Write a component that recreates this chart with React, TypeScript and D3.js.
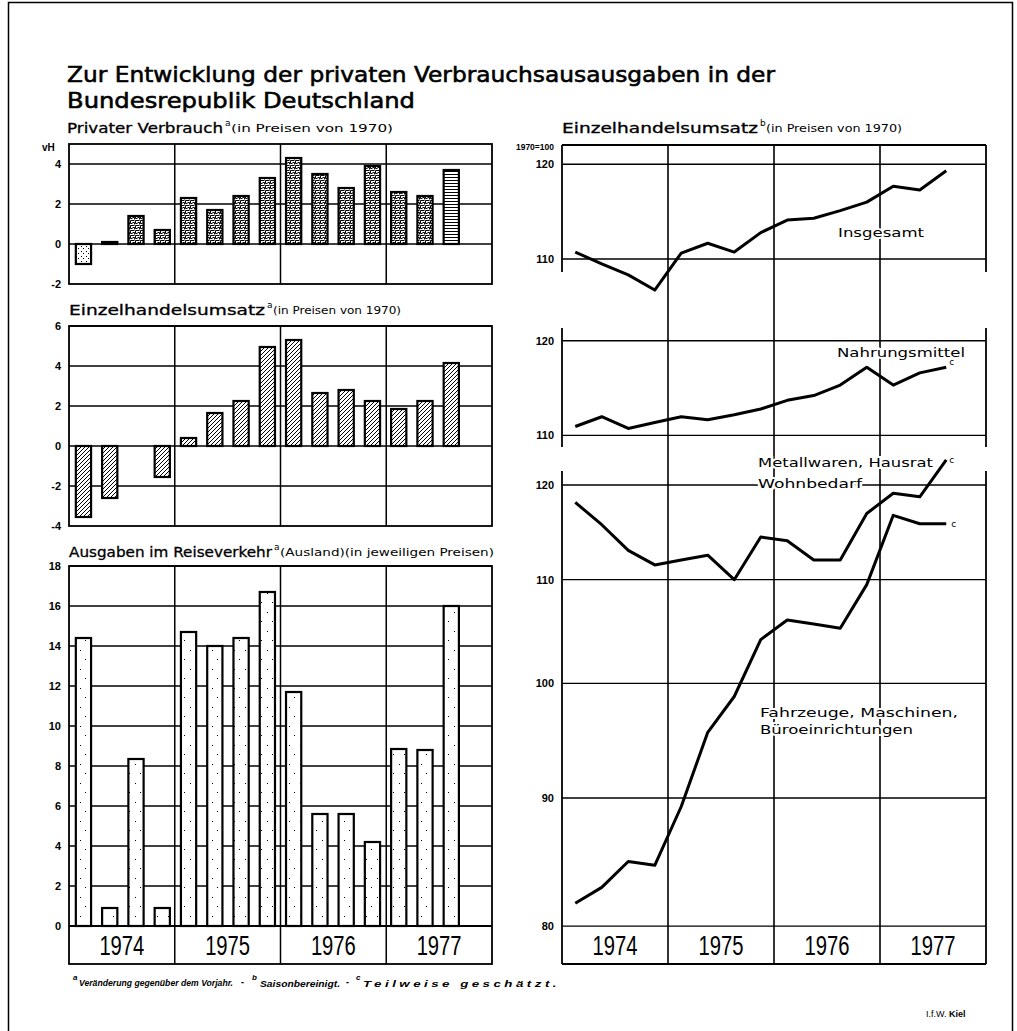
import React from 'react'
import * as d3 from 'd3'

// Quartale I/1974 bis IV/1977 (letztes Quartal 1977 noch ohne Wert)
const years = ['1974', '1975', '1976', '1977']
const quarters = years.flatMap(y => ['I', 'II', 'III', 'IV'].map(q => `${q}/${y}`))

// Veränderung gegenüber dem Vorjahr in vH
const privaterVerbrauch = [-1.0, 0.1, 1.4, 0.7, 2.3, 1.7, 2.4, 3.3, 4.3, 3.5, 2.8, 3.9, 2.6, 2.4, 3.7]
const einzelhandelVeraenderung = [-3.55, -2.6, 0, -1.55, 0.4, 1.65, 2.25, 4.95, 5.3, 2.65, 2.8, 2.25, 1.85, 2.25, 4.15]
// Ausgaben im Reiseverkehr (Ausland), Veränderung in vH
const reiseverkehr = [14.4, 0.9, 8.35, 0.9, 14.7, 14.0, 14.4, 16.7, 11.7, 5.6, 5.6, 4.2, 8.85, 8.8, 16.0]

// Einzelhandelsumsatz, 1970=100, saisonbereinigt
const insgesamt = [110.7, 109.5, 108.4, 106.9, 110.6, 111.6, 110.7, 112.7, 114.0, 114.2, 115.0, 115.9, 117.6, 117.2, 119.3]
const nahrungsmittel = [110.9, 111.9, 110.7, 111.3, 111.9, 111.6, 112.1, 112.7, 113.6, 114.1, 115.2, 117.1, 115.2, 116.5, 117.1]
const metallwaren = [118.1, 115.7, 113.0, 111.5, 112.0, 112.5, 110.0, 114.4, 114.0, 112.0, 112.0, 116.9, 119.1, 118.7, 122.8]
const fahrzeuge = [81.7, 82.9, 84.9, 84.6, 89.3, 95.6, 98.8, 104.1, 106.0, 105.6, 105.2, 109.5, 116.7, 115.8, 115.8]

const pvTicks = [-2, 0, 2, 4]
const ehTicks = [-4, -2, 0, 2, 4, 6]
const reiseTicks = [0, 2, 4, 6, 8, 10, 12, 14, 16, 18]
const indexTicksShort = [110, 120]
const indexTicksLong = [80, 90, 100, 110, 120]

const FONT = '"DejaVu Sans", "Liberation Sans", sans-serif'
const NUM_FONT = '"Liberation Sans", Arial, sans-serif'

const LX0 = 69
const LX1 = 492
const RX0 = 562
const RX1 = 986
const BOX_TOP = 926
const BOX_BOTTOM = 964

const xLeft = d3.scaleBand().domain(quarters).range([LX0, LX1]).paddingInner(0.42).paddingOuter(0.26)
const xYearLeft = d3.scaleBand().domain(years).range([LX0, LX1])
const xRight = d3.scaleBand().domain(quarters).range([RX0, RX1])
const xYearRight = d3.scaleBand().domain(years).range([RX0, RX1])

const y1 = d3.scaleLinear().domain([-2, 5]).range([284, 144])
const y2 = d3.scaleLinear().domain([-4, 6]).range([526, 326])
const y3 = d3.scaleLinear().domain([0, 18]).range([BOX_TOP, 566])

// logarithmischer Maßstab, alle Abschnitte mit gleicher Steigung
const K = 1088
function logSection(y120: number, top: number, bottom: number) {
  return d3.scaleLog()
    .domain([120 * Math.exp(-(bottom - y120) / K), 120 * Math.exp((y120 - top) / K)])
    .range([bottom, top])
}
const s1 = logSection(164.3, 145, 272)
const s2 = logSection(340.7, 328, 447)
const s3 = logSection(485, 471, BOX_TOP)
const RIGHT_TOP = 145

const Patterns = () => (
  <defs>
    <pattern id="maze" patternUnits="userSpaceOnUse" width="5" height="5">
      <rect width="5" height="5" fill="#fff" />
      <path d="M0.5 0.5h4 M0.5 0.5v3h2 M2.5 2.5h2v2" stroke="#000" strokeWidth="1" fill="none" />
    </pattern>
    <pattern id="stripes" patternUnits="userSpaceOnUse" width="6" height="3">
      <rect width="6" height="3" fill="#fff" />
      <path d="M0 0.5h6" stroke="#000" strokeWidth="1" />
    </pattern>
    <pattern id="dots" patternUnits="userSpaceOnUse" width="5" height="5">
      <rect width="5" height="5" fill="#fff" />
      <rect x="1" y="1" width="1" height="1" fill="#000" />
      <rect x="3" y="3" width="1" height="1" fill="#000" />
    </pattern>
    <pattern id="hatch" patternUnits="userSpaceOnUse" width="4" height="4">
      <rect width="4" height="4" fill="#fff" />
      <path d="M-1 1l2-2 M0 4l4-4 M3 5l2-2" stroke="#000" strokeWidth="1" />
    </pattern>
    <pattern id="sparse" patternUnits="userSpaceOnUse" width="11" height="19">
      <rect width="11" height="19" fill="#fff" />
      <rect x="3" y="4" width="1" height="1" fill="#000" />
      <rect x="8" y="13" width="1" height="1" fill="#000" />
    </pattern>
  </defs>
)

interface BarPanelProps {
  values: number[]
  y: d3.ScaleLinear<number, number>
  ticks: number[]
  fill: (v: number, i: number) => string
  yearBox?: boolean
}

const YearLabels = ({ scale }: { scale: d3.ScaleBand<string> }) => (
  <g>
    {years.map(yr => (
      <text key={yr} x={(scale(yr) as number) + scale.bandwidth() / 2} y={BOX_BOTTOM - 9}
        textAnchor="middle" fontFamily={NUM_FONT} fontSize={27} textLength={45} lengthAdjust="spacingAndGlyphs">
        {yr}
      </text>
    ))}
  </g>
)

const BarPanel: React.FC<BarPanelProps> = ({ values, y, ticks, fill, yearBox }) => {
  const [lo, hi] = y.domain()
  const top = y(hi)
  const bottom = y(lo)
  const frameBottom = yearBox ? BOX_BOTTOM : bottom
  return (
    <g>
      {ticks.filter(t => t !== lo).map(t => (
        <line key={t} x1={LX0} x2={LX1} y1={y(t)} y2={y(t)} stroke="#000" strokeWidth={1.5} />
      ))}
      {years.slice(1).map(yr => (
        <line key={yr} x1={xYearLeft(yr)} x2={xYearLeft(yr)} y1={top} y2={frameBottom} stroke="#000" strokeWidth={1.5} />
      ))}
      {values.map((v, i) => v === 0 ? null : (
        <rect key={i}
          x={xLeft(quarters[i])} width={xLeft.bandwidth()}
          y={y(Math.max(0, v))} height={Math.abs(y(v) - y(0))}
          fill={fill(v, i)} stroke="#000" strokeWidth={2.2} />
      ))}
      <rect x={LX0} y={top} width={LX1 - LX0} height={frameBottom - top} fill="none" stroke="#000" strokeWidth={1.8} />
      {yearBox && <line x1={LX0} x2={LX1} y1={bottom} y2={bottom} stroke="#000" strokeWidth={1.8} />}
      {ticks.map(t => (
        <text key={t} x={61} y={y(t) + 4} textAnchor="end" fontFamily={NUM_FONT} fontWeight="bold" fontSize={11}>
          {t < 0 ? `-${Math.abs(t)}` : t}
        </text>
      ))}
      {yearBox && <YearLabels scale={xYearLeft} />}
    </g>
  )
}

interface SectionProps {
  s: d3.ScaleLogarithmic<number, number>
  ticks: number[]
  series: number[][]
  topLine?: boolean
  yearBox?: boolean
}

const lineFor = (s: d3.ScaleLogarithmic<number, number>) =>
  d3.line<number>()
    .x((_, i) => (xRight(quarters[i]) as number) + xRight.bandwidth() / 2)
    .y(v => s(v))

const Section: React.FC<SectionProps> = ({ s, ticks, series, topLine, yearBox }) => {
  const [lo, hi] = s.domain()
  const top = s(hi)
  const bottom = s(lo)
  const frameBottom = yearBox ? BOX_BOTTOM : bottom
  return (
    <g>
      {ticks.map(t => (
        <line key={t} x1={RX0} x2={RX1} y1={s(t)} y2={s(t)} stroke="#000" strokeWidth={1.4} />
      ))}
      {topLine && <line x1={RX0} x2={RX1} y1={top} y2={top} stroke="#000" strokeWidth={1.8} />}
      <line x1={RX0} x2={RX0} y1={top} y2={frameBottom} stroke="#000" strokeWidth={1.8} />
      <line x1={RX1} x2={RX1} y1={top} y2={frameBottom} stroke="#000" strokeWidth={1.8} />
      {yearBox && <line x1={RX0} x2={RX1} y1={BOX_BOTTOM} y2={BOX_BOTTOM} stroke="#000" strokeWidth={1.8} />}
      {series.map((vals, k) => (
        <path key={k} d={lineFor(s)(vals) as string} fill="none" stroke="#000" strokeWidth={3} strokeLinejoin="round" />
      ))}
      {ticks.map(t => (
        <text key={t} x={554} y={s(t) + 4} textAnchor="end" fontFamily={NUM_FONT} fontWeight="bold" fontSize={11}>{t}</text>
      ))}
      {yearBox && <YearLabels scale={xYearRight} />}
    </g>
  )
}

const PanelTitle = ({ x, y, main, mainLen, sup, sub, subLen }: {
  x: number, y: number, main: string, mainLen: number, sup: string, sub: string, subLen: number
}) => (
  <g fontFamily={FONT} fill="#000">
    <text x={x} y={y} fontSize={13.5} textLength={mainLen} lengthAdjust="spacingAndGlyphs" stroke="#000" strokeWidth={0.3}>{main}</text>
    <text x={x + mainLen + 2} y={y - 7} fontSize={9}>{sup}</text>
    <text x={x + mainLen + 8} y={y - 1} fontSize={10} textLength={subLen} lengthAdjust="spacingAndGlyphs">{sub}</text>
  </g>
)

const endX = (xRight(quarters[14]) as number) + xRight.bandwidth() / 2

export default function App() {
  const pvFill = (v: number, i: number) => v < 0 ? 'url(#dots)' : i === 14 ? 'url(#stripes)' : 'url(#maze)'
  return (
    <div style={{ position: 'absolute', left: 0, top: 0 }}>
      <svg width={1017} height={1031} viewBox="0 0 1017 1031" style={{ display: 'block', background: '#fff' }}>
        <Patterns />
        <path d="M8.5 1031V2.5H1012.5V1031" fill="none" stroke="#000" strokeWidth={1.5} />

        <g fontFamily={FONT} fontSize={22} fill="#000">
          <text x={67} y={82} textLength={708} lengthAdjust="spacingAndGlyphs" stroke="#000" strokeWidth={0.6}>
            Zur Entwicklung der privaten Verbrauchsausausgaben in der
          </text>
          <text x={67} y={108} textLength={348} lengthAdjust="spacingAndGlyphs" stroke="#000" strokeWidth={0.6}>
            Bundesrepublik Deutschland
          </text>
        </g>

        <PanelTitle x={67} y={133} main="Privater Verbrauch" mainLen={156} sup="a" sub="(in Preisen von 1970)" subLen={162} />
        <text x={42} y={151} fontFamily={NUM_FONT} fontWeight="bold" fontSize={10}>vH</text>
        <BarPanel values={privaterVerbrauch} y={y1} ticks={pvTicks} fill={pvFill} />

        <PanelTitle x={69} y={315} main="Einzelhandelsumsatz" mainLen={196} sup="a" sub="(in Preisen von 1970)" subLen={128} />
        <BarPanel values={einzelhandelVeraenderung} y={y2} ticks={ehTicks} fill={() => 'url(#hatch)'} />

        <PanelTitle x={69} y={557} main="Ausgaben im Reiseverkehr" mainLen={203} sup="a" sub="(Ausland)(in jeweiligen Preisen)" subLen={214} />
        <BarPanel values={reiseverkehr} y={y3} ticks={reiseTicks} fill={() => 'url(#sparse)'} yearBox />

        <PanelTitle x={562} y={133} main="Einzelhandelsumsatz" mainLen={196} sup="b" sub="(in Preisen von 1970)" subLen={136} />
        <text x={554} y={150} textAnchor="end" fontFamily={NUM_FONT} fontWeight="bold" fontSize={8.5}>1970=100</text>

        {years.slice(1).map(yr => (
          <line key={yr} x1={xYearRight(yr)} x2={xYearRight(yr)} y1={RIGHT_TOP} y2={BOX_BOTTOM} stroke="#000" strokeWidth={1.6} />
        ))}
        <Section s={s1} ticks={indexTicksShort} series={[insgesamt]} topLine />
        <Section s={s2} ticks={indexTicksShort} series={[nahrungsmittel]} />
        <Section s={s3} ticks={indexTicksLong} series={[metallwaren, fahrzeuge]} yearBox />

        <g fontFamily={FONT} fontSize={13} fill="#000" stroke="#fff" strokeWidth={4} paintOrder="stroke">
          <text x={838} y={237} textLength={86} lengthAdjust="spacingAndGlyphs">Insgesamt</text>
          <text x={837} y={357} textLength={128} lengthAdjust="spacingAndGlyphs">Nahrungsmittel</text>
          <text x={758} y={467} textLength={175} lengthAdjust="spacingAndGlyphs">Metallwaren, Hausrat</text>
          <text x={758} y={488} textLength={104} lengthAdjust="spacingAndGlyphs">Wohnbedarf</text>
          <text x={760} y={717} textLength={198} lengthAdjust="spacingAndGlyphs">Fahrzeuge, Maschinen,</text>
          <text x={760} y={734} textLength={153} lengthAdjust="spacingAndGlyphs">Büroeinrichtungen</text>
        </g>
        <g fontFamily={FONT} fontSize={9} fill="#000">
          <text x={endX + 3} y={s2(nahrungsmittel[14]) - 2}>c</text>
          <text x={endX + 3} y={s3(metallwaren[14]) + 3}>c</text>
          <text x={endX + 5} y={s3(fahrzeuge[14]) + 3}>c</text>
        </g>

        <g fontFamily={NUM_FONT} fontStyle="italic" fontWeight="bold" fill="#000" fontSize={9}>
          <text x={73} y={980} fontSize={8}>a</text>
          <text x={79} y={986} textLength={154} lengthAdjust="spacingAndGlyphs">Veränderung gegenüber dem Vorjahr.</text>
          <text x={241} y={985}>-</text>
          <text x={252} y={980} fontSize={8}>b</text>
          <text x={260} y={987} textLength={80} lengthAdjust="spacingAndGlyphs">Saisonbereinigt.</text>
          <text x={346} y={985}>-</text>
          <text x={356} y={980} fontSize={8}>c</text>
          <text x={363} y={987} fontSize={9.5} letterSpacing={2.5} textLength={197} lengthAdjust="spacingAndGlyphs">Teilweise geschätzt.</text>
        </g>

        <text x={926} y={1017} fontFamily={NUM_FONT} fontSize={9} fill="#000">I.f.W. <tspan fontWeight="bold">Kiel</tspan></text>
      </svg>
    </div>
  )
}
